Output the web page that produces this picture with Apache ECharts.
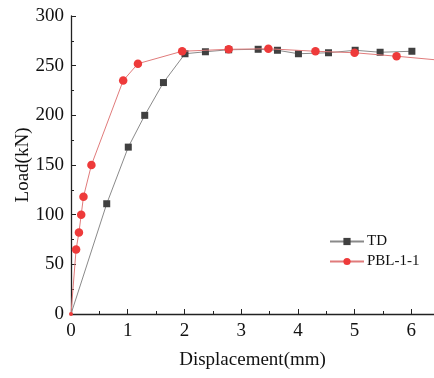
<!DOCTYPE html>
<html>
<head>
<meta charset="utf-8">
<script src="https://cdn.jsdelivr.net/npm/echarts@6/dist/echarts.min.js"></script>
<style>
  html, body { margin: 0; padding: 0; background: #fff; }
  #chart { width: 434px; height: 378px; }
</style>
</head>
<body>
<div id="chart"></div>
<script>
// TD test curve
const tdDisp = [0, 0.63, 1.01, 1.30, 1.63, 2.01, 2.37, 2.78, 3.30, 3.64, 4.01, 4.54, 5.01, 5.45, 6.01];
const tdLoad = [0, 111, 168, 200, 233, 262, 264, 266, 266.5, 265.5, 262, 263, 265.5, 263.5, 264.5];

// PBL-1-1 curve (last point runs past the axis end and is clipped)
const pblDisp = [0, 0.09, 0.14, 0.18, 0.22, 0.36, 0.92, 1.18, 1.96, 2.78, 3.48, 4.31, 5.0, 5.74, 6.6];
const pblLoad = [0, 65, 82, 100, 118, 150, 235, 252, 264.5, 266.5, 267, 264.5, 263, 259.5, 255];

const xTicks = [0, 1, 2, 3, 4, 5, 6];
const yTicks = [0, 50, 100, 150, 200, 250, 300];

const font = '"Liberation Serif", "Times New Roman", serif';
const axisColor = '#222';

const toPairs = (xs, ys) => xs.map((x, i) => [x, ys[i]]);

const chart = echarts.init(document.getElementById('chart'));

const pblData = toPairs(pblDisp, pblLoad).map((p, i) =>
    i === pblDisp.length - 1 ? { value: p, symbol: 'none' } : (i === 0 ? { value: p, symbolSize: 4 } : p));
const tdData = toPairs(tdDisp, tdLoad).map((p, i) => (i === 0 ? { value: p, symbol: 'none' } : p));

chart.setOption({
    animation: false,
    grid: { left: 71, top: 16, right: 0, bottom: 64 },
    legend: {
        orient: 'vertical',
        left: 324,
        top: 229,
        itemWidth: 34,
        itemHeight: 9,
        itemGap: 5,
        textStyle: { fontFamily: font, fontSize: 15, color: '#111', padding: [0, 0, 0, -2] },
        data: ['TD', 'PBL-1-1'],
    },
    xAxis: {
        type: 'value',
        min: 0,
        max: 6.4,
        interval: 1,
        name: 'Displacement(mm)',
        nameLocation: 'middle',
        nameGap: 37,
        nameMoveOverlap: false,
        nameTextStyle: { fontFamily: font, fontSize: 19, color: '#111' },
        axisLine: { show: true, lineStyle: { color: axisColor, width: 1.3 } },
        axisTick: { show: true, inside: true, length: 5, lineStyle: { color: axisColor } },
        minorTick: { show: true, splitNumber: 2, length: 3, lineStyle: { color: axisColor } },
        axisLabel: {
            fontFamily: font, fontSize: 19, color: '#111', margin: 8, showMaxLabel: false,
            formatter: (v) => (xTicks.includes(v) ? String(v) : ''),
        },
        splitLine: { show: false },
    },
    yAxis: {
        type: 'value',
        min: 0,
        max: 300,
        interval: 50,
        name: 'Load(kN)',
        nameLocation: 'middle',
        nameGap: 38,
        nameMoveOverlap: false,
        nameTextStyle: { fontFamily: font, fontSize: 19, color: '#111' },
        axisLine: { show: true, lineStyle: { color: axisColor, width: 1.3 } },
        axisTick: { show: true, inside: true, length: 5, lineStyle: { color: axisColor } },
        minorTick: { show: true, splitNumber: 2, length: 3, lineStyle: { color: axisColor } },
        axisLabel: {
            fontFamily: font, fontSize: 19, color: '#111', margin: 7,
            formatter: (v) => (yTicks.includes(v) ? String(v) : ''),
        },
        splitLine: { show: false },
    },
    series: [
        {
            name: 'TD',
            type: 'line',
            data: tdData,
            symbol: 'rect',
            symbolSize: 7,
            itemStyle: { color: '#404040' },
            lineStyle: { color: '#8a8a8a', width: 1 },
            z: 2,
        },
        {
            name: 'PBL-1-1',
            type: 'line',
            data: pblData,
            symbol: 'circle',
            symbolSize: 8.5,
            itemStyle: { color: '#ee3a3a' },
            lineStyle: { color: '#e07b7b', width: 1 },
            z: 3,
        },
    ],
});
</script>
</body>
</html>
